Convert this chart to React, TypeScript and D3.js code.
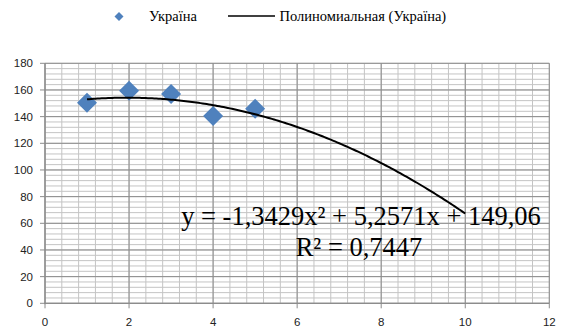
import React from "react";
import * as d3 from "d3";

const xValues = [1, 2, 3, 4, 5];
const yValues = [150.5, 159.5, 157, 140.5, 146];
const trendCoef = [-1.3429, 5.2571, 149.06]; // a, b, c
const trendRange = [1, 10];
const xTicks = [0, 2, 4, 6, 8, 10, 12];
const yTicks = [0, 20, 40, 60, 80, 100, 120, 140, 160, 180];
const seriesName = "Україна";
const trendName = "Полиномиальная (Україна)";
const eqText = "y = -1,3429x² + 5,2571x + 149,06";
const r2Text = "R² = 0,7447";

const W = 563;
const H = 331;
const M = { left: 45, right: 549.3, top: 63.3, bottom: 303.3 };

export default function App() {
  const x = d3.scaleLinear().domain([0, 12]).range([M.left, M.right]);
  const y = d3.scaleLinear().domain([0, 180]).range([M.bottom, M.top]);

  const minorX = d3.range(0, 12.0001, 0.4);
  const minorY = d3.range(0, 180.0001, 4);

  const trendPts = d3.range(trendRange[0], trendRange[1] + 0.0001, 0.05).map((v) => [
    v,
    trendCoef[0] * v * v + trendCoef[1] * v + trendCoef[2],
  ]);
  const line = d3
    .line<number[]>()
    .x((d) => x(d[0]))
    .y((d) => y(d[1]))
    .curve(d3.curveLinear);

  const diamond = (cx: number, cy: number, r: number) =>
    `M${cx},${cy - r}L${cx + r},${cy}L${cx},${cy + r}L${cx - r},${cy}Z`;

  const minorColor = "#c4c4c4";
  const majorColor = "#8c8c8c";
  const serif = "'Liberation Serif', 'Times New Roman', serif";
  const sans = "'Liberation Sans', Arial, sans-serif";

  return (
    <svg
      width={W}
      height={H}
      style={{ position: "absolute", left: 0, top: 0, background: "#fff" }}
    >
      {/* minor grid */}
      {minorY.map((v, i) => (
        <line key={"my" + i} x1={M.left} x2={M.right} y1={y(v)} y2={y(v)} stroke={minorColor} strokeWidth={1} />
      ))}
      {minorX.map((v, i) => (
        <line key={"mx" + i} x1={x(v)} x2={x(v)} y1={M.top} y2={M.bottom} stroke={minorColor} strokeWidth={1} />
      ))}
      {/* major grid */}
      {yTicks.map((v) => (
        <line key={"Y" + v} x1={M.left} x2={M.right} y1={y(v)} y2={y(v)} stroke={majorColor} strokeWidth={1} />
      ))}
      {xTicks.map((v) => (
        <line key={"X" + v} x1={x(v)} x2={x(v)} y1={M.top} y2={M.bottom} stroke={majorColor} strokeWidth={1} />
      ))}
      {/* axes */}
      <line x1={M.left} x2={M.left} y1={M.top} y2={M.bottom + 1} stroke={majorColor} strokeWidth={1.2} />
      <line x1={M.left - 1} x2={M.right} y1={M.bottom} y2={M.bottom} stroke={majorColor} strokeWidth={1.2} />
      {yTicks.map((v) => (
        <line key={"yt" + v} x1={M.left - 5} x2={M.left} y1={y(v)} y2={y(v)} stroke={majorColor} strokeWidth={1} />
      ))}
      {xTicks.map((v) => (
        <line key={"xt" + v} x1={x(v)} x2={x(v)} y1={M.bottom} y2={M.bottom + 5} stroke={majorColor} strokeWidth={1} />
      ))}
      {/* tick labels */}
      {yTicks.map((v) => (
        <text key={"yl" + v} x={33} y={y(v)} dy="0.35em" textAnchor="end" fontFamily={sans} fontSize={11.5} fill="#222">
          {v}
        </text>
      ))}
      {xTicks.map((v) => (
        <text key={"xl" + v} x={x(v)} y={325.5} textAnchor="middle" fontFamily={sans} fontSize={11.5} fill="#222">
          {v}
        </text>
      ))}
      {/* markers */}
      {xValues.map((v, i) => (
        <path key={"p" + i} d={diamond(x(v), y(yValues[i]), 10)} fill="#4f81bd" />
      ))}
      {/* trendline */}
      <path d={line(trendPts) || ""} fill="none" stroke="#000" strokeWidth={2} />
      {/* equation */}
      <text x={361} y={225} textAnchor="middle" fontFamily={serif} fontSize={26.5} fill="#000">
        {eqText}
      </text>
      <text x={359} y={256} textAnchor="middle" fontFamily={serif} fontSize={26.5} fill="#000">
        {r2Text}
      </text>
      {/* legend */}
      <path d={diamond(119, 16.5, 4.5)} fill="#4f81bd" />
      <text x={149} y={21} fontFamily={serif} fontSize={14.5} fill="#000">
        {seriesName}
      </text>
      <line x1={228} x2={275} y1={16} y2={16} stroke="#000" strokeWidth={1.6} />
      <text x={279.5} y={21} fontFamily={serif} fontSize={14.5} fill="#000">
        {trendName}
      </text>
    </svg>
  );
}
